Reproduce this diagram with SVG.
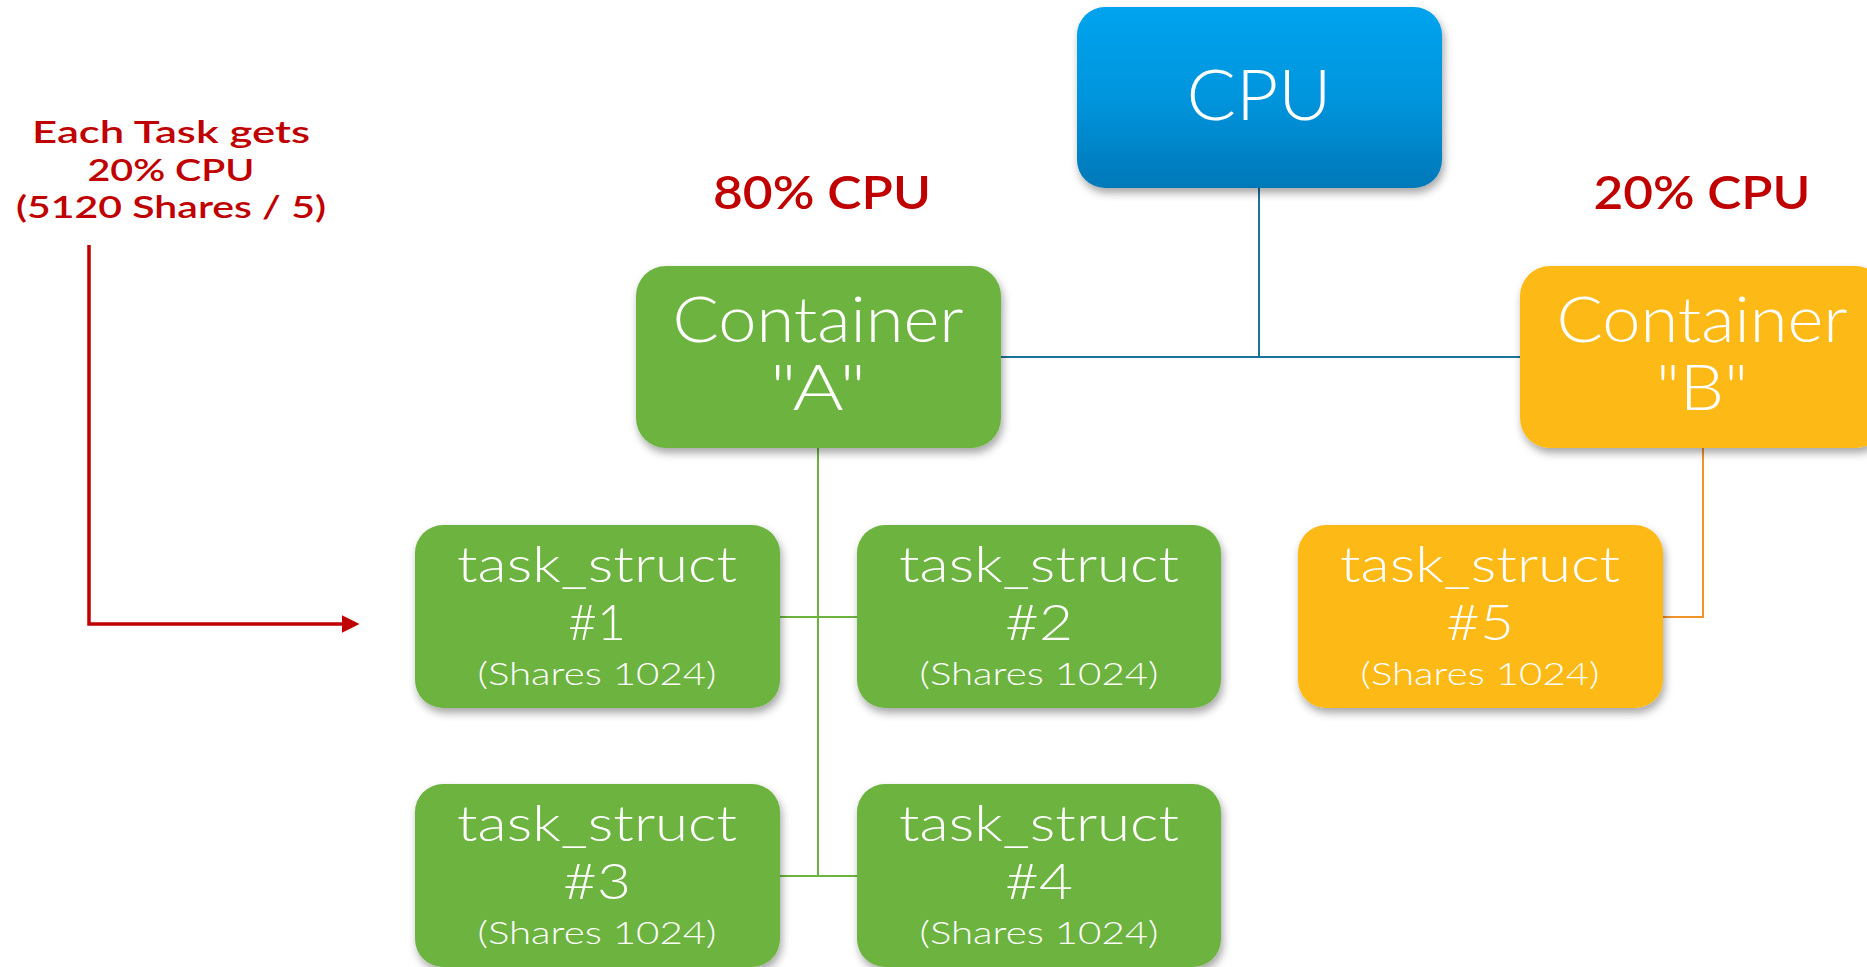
<svg xmlns="http://www.w3.org/2000/svg" width="1867" height="967" viewBox="0 0 1867 967">
<defs>
<linearGradient id="gBlue" x1="0" y1="0" x2="0" y2="1">
<stop offset="0" stop-color="#03a3ef"/>
<stop offset="0.5" stop-color="#0195dd"/>
<stop offset="1" stop-color="#0078b8"/>
</linearGradient>
<filter id="sh" x="-10%" y="-10%" width="130%" height="140%">
<feDropShadow dx="2" dy="5" stdDeviation="4" flood-color="#000" flood-opacity="0.35"/>
</filter>
<marker id="arr" markerWidth="5" markerHeight="5" refX="4" refY="2.5" orient="auto" markerUnits="strokeWidth">
<path d="M0,0 L5,2.5 L0,5 Z" fill="#c00000"/>
</marker>
<style>
.t{font-family:"Lato","Noto Sans","Liberation Sans",sans-serif;font-weight:300;fill:#fff;text-anchor:middle}
.r{font-family:"Lato","Noto Sans","Liberation Sans",sans-serif;font-weight:600;fill:#c00000;text-anchor:middle}
.green{fill:#6db33f}
.orange{fill:#fdb913}
.big{font-size:63px}
.mid{font-size:49px}
.sm{font-size:32px}
</style>
</defs>
<rect width="1867" height="967" fill="#fff"/>

<g id="connectors" fill="none">
<path d="M1259,188 V357 M1001,357 H1520" stroke="#1a7399" stroke-width="2"/>
<path d="M818,448 V876 M780,617 H857 M780,876 H857" stroke="#6db33f" stroke-width="2"/>
<path d="M1703,448 V617 H1663" stroke="#f0932b" stroke-width="2"/>
<path d="M89,245 V624 H356" stroke="#c00000" stroke-width="3.5" marker-end="url(#arr)"/>
</g>

<g id="cpu">
<rect x="1077" y="7" width="365" height="181" rx="28" fill="url(#gBlue)" filter="url(#sh)"/>
<text class="t" x="1259" y="120" font-size="71" textLength="145" lengthAdjust="spacingAndGlyphs">CPU</text>
</g>

<g id="label-80">
<text class="r" x="822" y="209" font-size="46" textLength="218" lengthAdjust="spacingAndGlyphs">80% CPU</text>
</g>
<g id="label-20">
<text class="r" x="1702" y="209" font-size="46" textLength="217" lengthAdjust="spacingAndGlyphs">20% CPU</text>
</g>

<g id="note">
<text class="r" x="171" y="143" font-size="30" textLength="278" lengthAdjust="spacingAndGlyphs">Each Task gets</text>
<text class="r" x="171" y="181" font-size="30" textLength="167" lengthAdjust="spacingAndGlyphs">20% CPU</text>
<text class="r" x="171" y="218" font-size="30" textLength="310" lengthAdjust="spacingAndGlyphs">(5120 Shares / 5)</text>
</g>

<g id="containerA">
<rect class="green" x="636" y="266" width="365" height="182" rx="30" filter="url(#sh)"/>
<text class="t big" x="818" y="342" textLength="291" lengthAdjust="spacingAndGlyphs">Container</text>
<text class="t big" x="818" y="410" textLength="96" lengthAdjust="spacingAndGlyphs">"A"</text>
</g>

<g id="containerB">
<rect class="orange" x="1520" y="266" width="365" height="182" rx="30" filter="url(#sh)"/>
<text class="t big" x="1702" y="342" textLength="291" lengthAdjust="spacingAndGlyphs">Container</text>
<text class="t big" x="1702" y="410" textLength="92" lengthAdjust="spacingAndGlyphs">"B"</text>
</g>

<g id="task1">
<rect class="green" x="415" y="525" width="365" height="183" rx="28" filter="url(#sh)"/>
<text class="t mid" x="597" y="582" textLength="280" lengthAdjust="spacingAndGlyphs">task_struct</text>
<text class="t mid" x="597" y="640" textLength="58" lengthAdjust="spacingAndGlyphs">#1</text>
<text class="t sm" x="597" y="685" textLength="239" lengthAdjust="spacingAndGlyphs">(Shares 1024)</text>
</g>

<g id="task2">
<rect class="green" x="857" y="525" width="364" height="183" rx="28" filter="url(#sh)"/>
<text class="t mid" x="1039" y="582" textLength="280" lengthAdjust="spacingAndGlyphs">task_struct</text>
<text class="t mid" x="1039" y="640" textLength="68" lengthAdjust="spacingAndGlyphs">#2</text>
<text class="t sm" x="1039" y="685" textLength="239" lengthAdjust="spacingAndGlyphs">(Shares 1024)</text>
</g>

<g id="task5">
<rect class="orange" x="1298" y="525" width="365" height="183" rx="28" filter="url(#sh)"/>
<text class="t mid" x="1480" y="582" textLength="280" lengthAdjust="spacingAndGlyphs">task_struct</text>
<text class="t mid" x="1480" y="640" textLength="68" lengthAdjust="spacingAndGlyphs">#5</text>
<text class="t sm" x="1480" y="685" textLength="239" lengthAdjust="spacingAndGlyphs">(Shares 1024)</text>
</g>

<g id="task3">
<rect class="green" x="415" y="784" width="365" height="183" rx="28" filter="url(#sh)"/>
<text class="t mid" x="597" y="841" textLength="280" lengthAdjust="spacingAndGlyphs">task_struct</text>
<text class="t mid" x="597" y="899" textLength="68" lengthAdjust="spacingAndGlyphs">#3</text>
<text class="t sm" x="597" y="944" textLength="239" lengthAdjust="spacingAndGlyphs">(Shares 1024)</text>
</g>

<g id="task4">
<rect class="green" x="857" y="784" width="364" height="183" rx="28" filter="url(#sh)"/>
<text class="t mid" x="1039" y="841" textLength="280" lengthAdjust="spacingAndGlyphs">task_struct</text>
<text class="t mid" x="1039" y="899" textLength="68" lengthAdjust="spacingAndGlyphs">#4</text>
<text class="t sm" x="1039" y="944" textLength="239" lengthAdjust="spacingAndGlyphs">(Shares 1024)</text>
</g>
</svg>
